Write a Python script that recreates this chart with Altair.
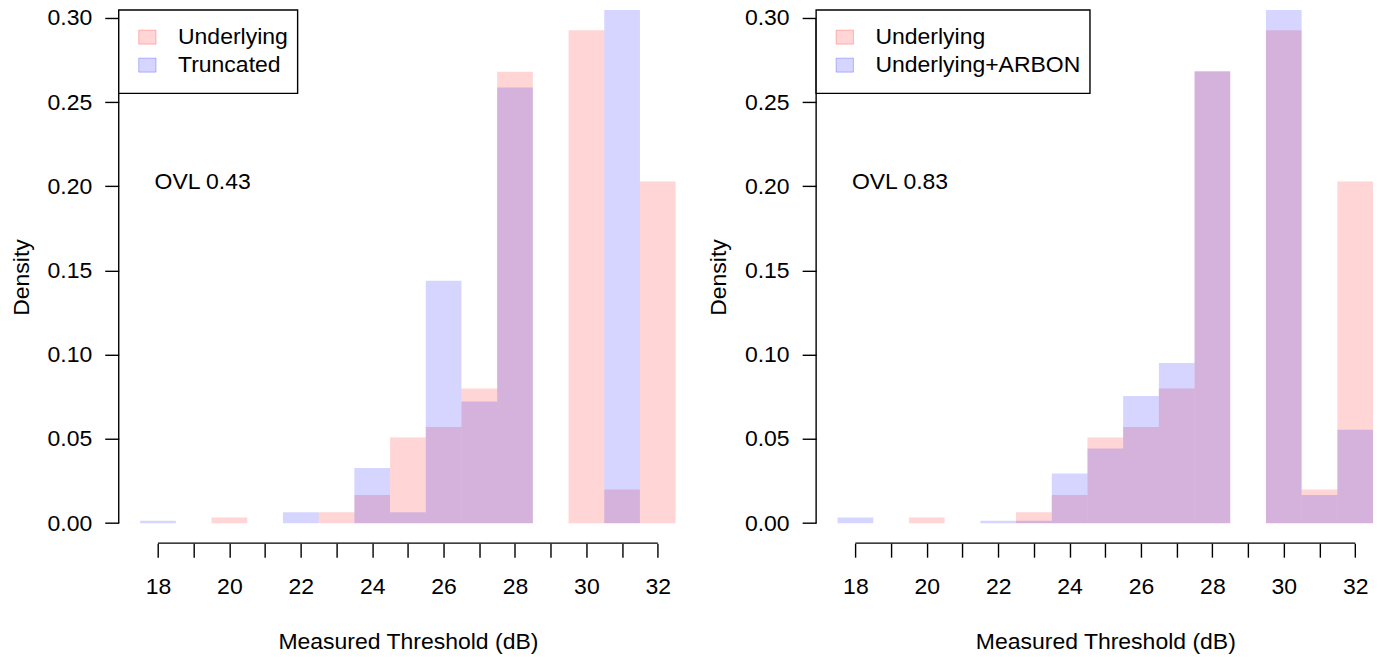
import altair as alt
import pandas as pd

# ---------------- data ----------------
thresholds = list(range(18, 33))
underlying = [0, 0, 0.0033, 0, 0, 0.0065, 0.0167, 0.0508, 0.0571, 0.080, 0.268, 0, 0.2927, 0.020, 0.2029]
truncated = [0.0014, 0, 0, 0, 0.0065, 0, 0.0327, 0.0065, 0.1439, 0.0722, 0.2586, 0, 0, 0.478, 0]
underlying_arbon = [0.0033, 0, 0, 0, 0.0014, 0.0014, 0.0294, 0.0443, 0.0755, 0.0951, 0.2685, 0, 0.409, 0.0167, 0.0555]
y_ticks = [0.0, 0.05, 0.10, 0.15, 0.20, 0.25, 0.30]
legend_left = ["Underlying", "Truncated"]
legend_right = ["Underlying", "Underlying+ARBON"]
ovl_left = "OVL 0.43"
ovl_right = "OVL 0.83"
ovl_pos = [19.25, 0.2025]

# ---------------- style ----------------
FONT = "Liberation Sans"
FS = 23
PINK = "#ff0000"
BLUE = "#0000ff"
ALPHA = 0.165
H = 533.5
UNIT = 35.72
XMIN = 16.9
YDOM = [-0.0119, 0.3047]


def bar_df(vals):
    df = pd.DataFrame({"t": thresholds, "v": vals})
    df = df[df["v"] > 0].copy()
    df["x0"] = df["t"] - 0.5
    df["x1"] = df["t"] + 0.5
    df["base"] = 0.0
    return df


def panel(blue_vals, labels, ovl, xmax, legend_w):
    width = (xmax - XMIN) * UNIT
    xs = alt.Scale(domain=[XMIN, xmax], nice=False, zero=False)
    ys = alt.Scale(domain=YDOM, nice=False, zero=False)
    xaxis = alt.Axis(
        values=thresholds, format="d",
        labelExpr="datum.value % 2 == 0 ? datum.label : ''",
        domain=False, grid=False, tickSize=14, tickColor="black", tickWidth=1.4,
        labelFontSize=FS, labelFont=FONT, labelColor="black", labelPadding=18,
        labelFlush=False, labelOverlap=False,
        title="Measured Threshold (dB)", titleFont=FONT, titleFontSize=FS,
        titleFontWeight="normal", titleColor="black",
        titleX=(33.1 - XMIN) * UNIT / 2, titleY=105.3,
        titleBaseline="alphabetic", titleAlign="center",
    )
    yaxis = alt.Axis(
        values=y_ticks, format=".2f", domain=False, grid=False,
        tickSize=14, tickColor="black", tickWidth=1.4,
        labelFontSize=FS, labelFont=FONT, labelColor="black", labelPadding=13,
        title="Density", titleFont=FONT, titleFontSize=FS, titleFontWeight="normal",
        titleColor="black", titleAngle=270, titleX=-90.7, titleY=267.2,
        titleBaseline="alphabetic", titleAlign="center",
    )

    def X(f):
        return alt.X(f, scale=xs, axis=xaxis)

    def Y(f):
        return alt.Y(f, scale=ys, axis=yaxis)

    pink = alt.Chart(bar_df(underlying)).mark_rect(
        fill=PINK, opacity=ALPHA, clip=True
    ).encode(x=X("x0:Q"), x2="x1:Q", y=Y("v:Q"), y2="base:Q")
    blue = alt.Chart(bar_df(blue_vals)).mark_rect(
        fill=BLUE, opacity=ALPHA, clip=True
    ).encode(x=X("x0:Q"), x2="x1:Q", y=Y("v:Q"), y2="base:Q")

    yline = alt.Chart(pd.DataFrame({"x0": [XMIN], "v": [min(y_ticks)], "base": [max(y_ticks)]})).mark_rule(
        color="black", strokeWidth=1.4
    ).encode(x=X("x0:Q"), y=Y("v:Q"), y2="base:Q")
    xline = alt.Chart(pd.DataFrame({"x0": [min(thresholds)], "x1": [max(thresholds)]})).mark_rule(
        color="black", strokeWidth=1.4
    ).encode(x=X("x0:Q"), x2="x1:Q", y=alt.value(H))

    ovl_text = alt.Chart(pd.DataFrame({"x0": [ovl_pos[0]], "v": [ovl_pos[1]], "s": [ovl]})).mark_text(
        font=FONT, fontSize=FS, color="black", align="center", baseline="middle"
    ).encode(x=X("x0:Q"), y=Y("v:Q"), text="s:N")

    box = alt.Chart(pd.DataFrame({"k": [0]})).mark_rect(
        fill="white", stroke="black", strokeWidth=1.4
    ).encode(
        x=alt.value(0), x2=alt.value(legend_w), y=alt.value(0), y2=alt.value(83.4)
    )
    leg_df = pd.DataFrame({"label": labels})
    layers = [pink, blue, yline, xline, ovl_text, box]
    for i, (lab, col) in enumerate(zip(labels, [PINK, BLUE])):
        yc = 27.2 + 28 * i
        sw = alt.Chart(leg_df.iloc[[i]]).mark_rect(
            fill=col, fillOpacity=ALPHA, stroke=col, strokeOpacity=0.25, strokeWidth=1
        ).encode(
            x=alt.value(20), x2=alt.value(37.3), y=alt.value(yc - 7), y2=alt.value(yc + 7)
        )
        tx = alt.Chart(leg_df.iloc[[i]]).mark_text(
            font=FONT, fontSize=FS, color="black", align="left", baseline="middle"
        ).encode(
            x=alt.value(59.3), y=alt.value(yc), text="label:N"
        )
        layers += [sw, tx]

    return alt.layer(*layers).properties(width=width, height=H)


left = panel(truncated, legend_left, ovl_left, 33.1, 179)
right = panel(underlying_arbon, legend_right, ovl_right, 32.78, 274)

chart = alt.hconcat(left, right, spacing=118.8, bounds="flush").properties(
    padding={"left": 9.8, "top": 5.8, "right": 0, "bottom": 0},
    background="white",
).configure(font=FONT).configure_view(stroke=None)

chart.save("out.html", embed_options={"renderer": "svg", "actions": False})
